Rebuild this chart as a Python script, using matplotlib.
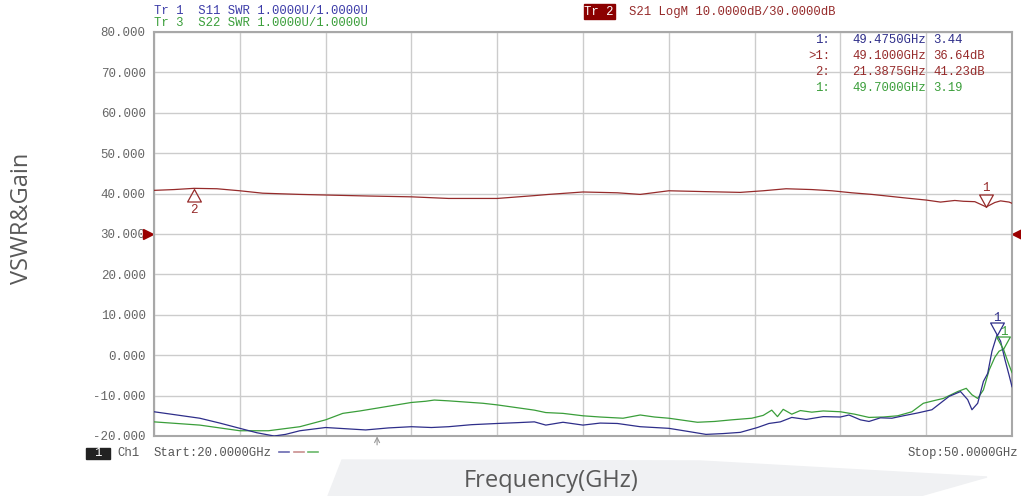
# !/usr/bin/env python3
# VNA screenshot recreation - S11 / S21 / S22 over 20-50 GHz

import matplotlib
matplotlib.use("Agg")
import matplotlib.pyplot as plt
from matplotlib.path import Path
from matplotlib.patches import Polygon, Rectangle
from matplotlib.lines import Line2D

# S21 gain trace (Tr 2), display units
red_f = [20.0, 20.7, 21.4, 22.2, 23.0, 23.8, 25.1, 26.3, 27.5, 29.0, 30.3, 32.0, 33.3, 33.8,
         35.0, 36.2, 37.0, 38.0, 39.2, 40.5, 41.3, 42.1, 43.0, 43.7, 44.4, 45.1, 46.3, 47.0,
         47.5, 48.0, 48.3, 48.7, 49.1, 49.4, 49.6, 49.9, 50.0]
red_v = [40.8, 41.0, 41.3, 41.2, 40.7, 40.1, 39.8, 39.6, 39.4, 39.2, 38.8, 38.8, 39.5, 39.8,
         40.4, 40.2, 39.8, 40.7, 40.5, 40.3, 40.7, 41.2, 41.0, 40.7, 40.2, 39.8, 38.9, 38.4,
         37.9, 38.3, 38.1, 38.0, 36.7, 37.8, 38.2, 37.9, 37.6]

# S11 SWR trace (Tr 1)
blue_f = [20.0, 20.8, 21.6, 22.3, 23.0, 23.6, 24.2, 24.6, 25.1, 26.0, 26.7, 27.4, 28.2, 29.0,
          29.7, 30.3, 31.1, 32.0, 32.7, 33.3, 33.7, 34.3, 35.0, 35.6, 36.2, 37.0, 38.0, 38.7,
          39.3, 39.9, 40.5, 41.1, 41.5, 41.9, 42.3, 42.8, 43.4, 44.0, 44.3, 44.7, 45.0, 45.4,
          45.8, 46.2, 46.7, 47.2, 47.8, 48.2, 48.45, 48.6, 48.8, 49.0, 49.15, 49.3, 49.475,
          49.6, 49.75, 49.9, 50.0]
blue_v = [-14.0, -14.8, -15.6, -16.8, -18.1, -19.2, -20.0, -19.6, -18.7, -17.9, -18.2, -18.5,
          -18.0, -17.7, -17.9, -17.7, -17.2, -16.9, -16.7, -16.5, -17.3, -16.6, -17.3, -16.8,
          -16.9, -17.7, -18.1, -18.9, -19.6, -19.4, -19.1, -17.9, -16.9, -16.5, -15.4, -15.9,
          -15.2, -15.3, -14.8, -16.0, -16.4, -15.5, -15.6, -15.0, -14.3, -13.5, -10.2, -9.0,
          -11.0, -13.5, -11.9, -6.5, -4.5, 1.0, 5.0, 3.5, -1.0, -5.0, -7.8]

# S22 SWR trace (Tr 3)
green_f = [20.0, 20.8, 21.6, 22.3, 23.0, 24.0, 25.1, 26.0, 26.6, 27.2, 27.8, 28.4, 29.0, 29.5,
           29.8, 30.3, 30.9, 31.5, 32.0, 32.6, 33.3, 33.7, 34.3, 35.0, 35.6, 36.4, 37.0, 37.5,
           38.0, 38.5, 39.0, 39.6, 40.2, 40.9, 41.3, 41.6, 41.8, 42.0, 42.3, 42.6, 43.0, 43.4,
           44.0, 44.5, 45.0, 45.5, 46.0, 46.5, 46.9, 47.3, 47.6, 48.1, 48.4, 48.6, 48.8, 49.0,
           49.2, 49.4, 49.55, 49.7, 49.8, 49.9, 50.0]
green_v = [-16.5, -16.9, -17.3, -18.0, -18.7, -18.7, -17.7, -16.0, -14.4, -13.8, -13.1, -12.4,
           -11.7, -11.4, -11.1, -11.3, -11.6, -11.9, -12.3, -12.9, -13.6, -14.2, -14.4, -15.0,
           -15.3, -15.6, -14.8, -15.3, -15.6, -16.1, -16.6, -16.4, -16.0, -15.6, -14.9, -13.6,
           -15.2, -13.4, -14.6, -13.7, -14.1, -13.8, -14.0, -14.6, -15.4, -15.3, -15.0, -14.0,
           -11.9, -11.2, -10.7, -9.0, -8.2, -9.8, -10.7, -8.6, -3.7, -0.5, 1.0, 1.5, -0.5,
           -2.5, -4.3]

# marker readouts
red_mk_f = [49.1, 21.3875]
red_mk_v = [36.7, 41.23]
blue_mk = (49.475, 5.0)
green_mk = (49.7, 1.5)
ref_level = 30.0
y_ticks = [80, 70, 60, 50, 40, 30, 20, 10, 0, -10, -20]
table_rows = [("1:", "49.4750GHz", "3.44"),
              (">1:", "49.1000GHz", "36.64dB"),
              ("2:", "21.3875GHz", "41.23dB"),
              ("1:", "49.7000GHz", "3.19")]

BLUE = "#2e2e8a"
RED = "#962b2b"
GREEN = "#3a9e3a"
MONO = "Liberation Mono"
W, H = 1021, 496

# triangle paths with apex at the data point
TRI_DOWN = Path([(0, 0), (-0.55, 1), (0.55, 1), (0, 0)], closed=True)
TRI_UP = Path([(0, 0), (-0.55, -1), (0.55, -1), (0, 0)], closed=True)
MS = 18


def fx(px):
    return px / W


def fy(py):
    return 1 - py / H


def draw_traces(ax):
    ax.plot(green_f, green_v, color=GREEN, lw=0.9, zorder=3)
    ax.plot(blue_f, blue_v, color=BLUE, lw=0.9, zorder=4)
    ax.plot(red_f, red_v, color=RED, lw=0.9, zorder=4)


def draw_markers(ax):
    # marker 1 / 2 of the gain trace
    ax.plot(red_mk_f[0], red_mk_v[0], marker=TRI_DOWN, ms=MS, mfc="none", mec=RED, mew=0.9, zorder=5)
    ax.annotate("1", (red_mk_f[0], red_mk_v[0]), xytext=(0, 9), textcoords="offset points",
                ha="center", va="bottom", color=RED, fontsize=9, family=MONO)
    ax.plot(red_mk_f[1], red_mk_v[1], marker=TRI_UP, ms=MS, mfc="none", mec=RED, mew=0.9, zorder=5)
    ax.annotate("2", (red_mk_f[1], red_mk_v[1]), xytext=(0, -11), textcoords="offset points",
                ha="center", va="top", color=RED, fontsize=9, family=MONO)
    for (f, v), c in [(blue_mk, BLUE), (green_mk, GREEN)]:
        ax.plot(f, v, marker=TRI_DOWN, ms=MS, mfc="none", mec=c, mew=0.9, zorder=6, clip_on=False)
        ax.annotate("1", (f, v), xytext=(0, 8), textcoords="offset points",
                    ha="center", va="bottom", color=c, fontsize=9, family=MONO)
    # reference level arrows on both edges
    tr = ax.get_yaxis_transform()
    ax.plot(-0.007, ref_level, marker=">", ms=7, color="#9b0000", transform=tr, clip_on=False)
    ax.plot(1.006, ref_level, marker="<", ms=7, color="#9b0000", transform=tr, clip_on=False)
    # small stimulus arrow under the grid
    ax.annotate("", xy=(27.8, -20.1), xytext=(27.8, -22.2),
                arrowprops=dict(arrowstyle="->", color="#999999", lw=0.8, mutation_scale=9,
                                shrinkA=0, shrinkB=0),
                annotation_clip=False)


def draw_table(fig):
    for i, (n, f, v) in enumerate(table_rows):
        c = [BLUE, RED, RED, GREEN][i]
        y = fy(40 + 16 * i)
        fig.text(fx(830), y, n, ha="right", va="center", family=MONO, fontsize=8.8, color=c)
        fig.text(fx(852), y, f, ha="left", va="center", family=MONO, fontsize=8.8, color=c)
        fig.text(fx(933), y, v, ha="left", va="center", family=MONO, fontsize=8.8, color=c)


def draw_header_footer(fig):
    fig.text(fx(154), fy(11), "Tr 1  S11 SWR 1.0000U/1.0000U", family=MONO, fontsize=8.8,
             color="#3c3ca8", va="center")
    fig.text(fx(154), fy(23), "Tr 3  S22 SWR 1.0000U/1.0000U", family=MONO, fontsize=8.8,
             color=GREEN, va="center")
    fig.patches.append(Rectangle((fx(584), fy(19)), fx(31), 15 / H, transform=fig.transFigure,
                                 color="#8b0000", zorder=1))
    fig.text(fx(599), fy(12), "Tr 2", family=MONO, fontsize=8.8, color="white",
             ha="center", va="center", zorder=2)
    fig.text(fx(629), fy(12), "S21 LogM 10.0000dB/30.0000dB", family=MONO, fontsize=8.8,
             color=RED, va="center")
    # channel line
    fig.patches.append(Rectangle((fx(86), fy(459)), fx(24), 11 / H, transform=fig.transFigure,
                                 color="#222222", zorder=1))
    fig.text(fx(98), fy(453), "1", family=MONO, fontsize=8.8, color="white",
             ha="center", va="center", zorder=2)
    fig.text(fx(117), fy(453), "Ch1", family=MONO, fontsize=8.8, color="#555555", va="center")
    fig.text(fx(154), fy(453), "Start:20.0000GHz", family=MONO, fontsize=8.8,
             color="#555555", va="center")
    for x0, c in [(279, "#6a6ab0"), (294, "#c98f8f"), (308, "#6ab86a")]:
        fig.add_artist(Line2D([fx(x0), fx(x0 + 10)], [fy(452), fy(452)], color=c, lw=1.2))
    fig.text(fx(1018), fy(453), "Stop:50.0000GHz", family=MONO, fontsize=8.8,
             color="#555555", va="center", ha="right")


def main():
    fig = plt.figure(figsize=(W / 100, H / 100), dpi=100)
    fig.patch.set_facecolor("white")

    # light watermark band behind the x label
    band = [(328, 496), (342, 460), (700, 461), (987, 477), (920, 496)]
    fig.patches.append(Polygon([(fx(a), fy(b)) for a, b in band], closed=True,
                               transform=fig.transFigure, color="#f0f1f3", zorder=0))

    ax = fig.add_axes([fx(154), fy(436), fx(858), 404 / H])
    ax.set_xlim(20, 50)
    ax.set_ylim(-20, 80)
    ax.set_xticks([20 + 3 * i for i in range(11)])
    ax.set_yticks(y_ticks)
    ax.set_yticklabels(["%.3f" % t for t in y_ticks], family=MONO, fontsize=9, color="#666666")
    ax.tick_params(axis="x", length=0, labelbottom=False)
    ax.tick_params(axis="y", length=0, pad=6)
    ax.grid(True, color="#cccccc", lw=1.0)
    for s in ax.spines.values():
        s.set_color("#a8a8a8")
        s.set_linewidth(1.5)

    draw_traces(ax)
    draw_markers(ax)
    draw_table(fig)
    draw_header_footer(fig)

    fig.text(fx(551), fy(481), "Frequency(GHz)", family="Open Sans", fontsize=17,
             color="#595959", ha="center", va="center")
    fig.text(fx(22), fy(218), "VSWR&Gain", family="Open Sans", fontsize=17,
             color="#595959", ha="center", va="center", rotation=90)

    fig.savefig("out.png", dpi=100)


if __name__ == "__main__":
    main()
